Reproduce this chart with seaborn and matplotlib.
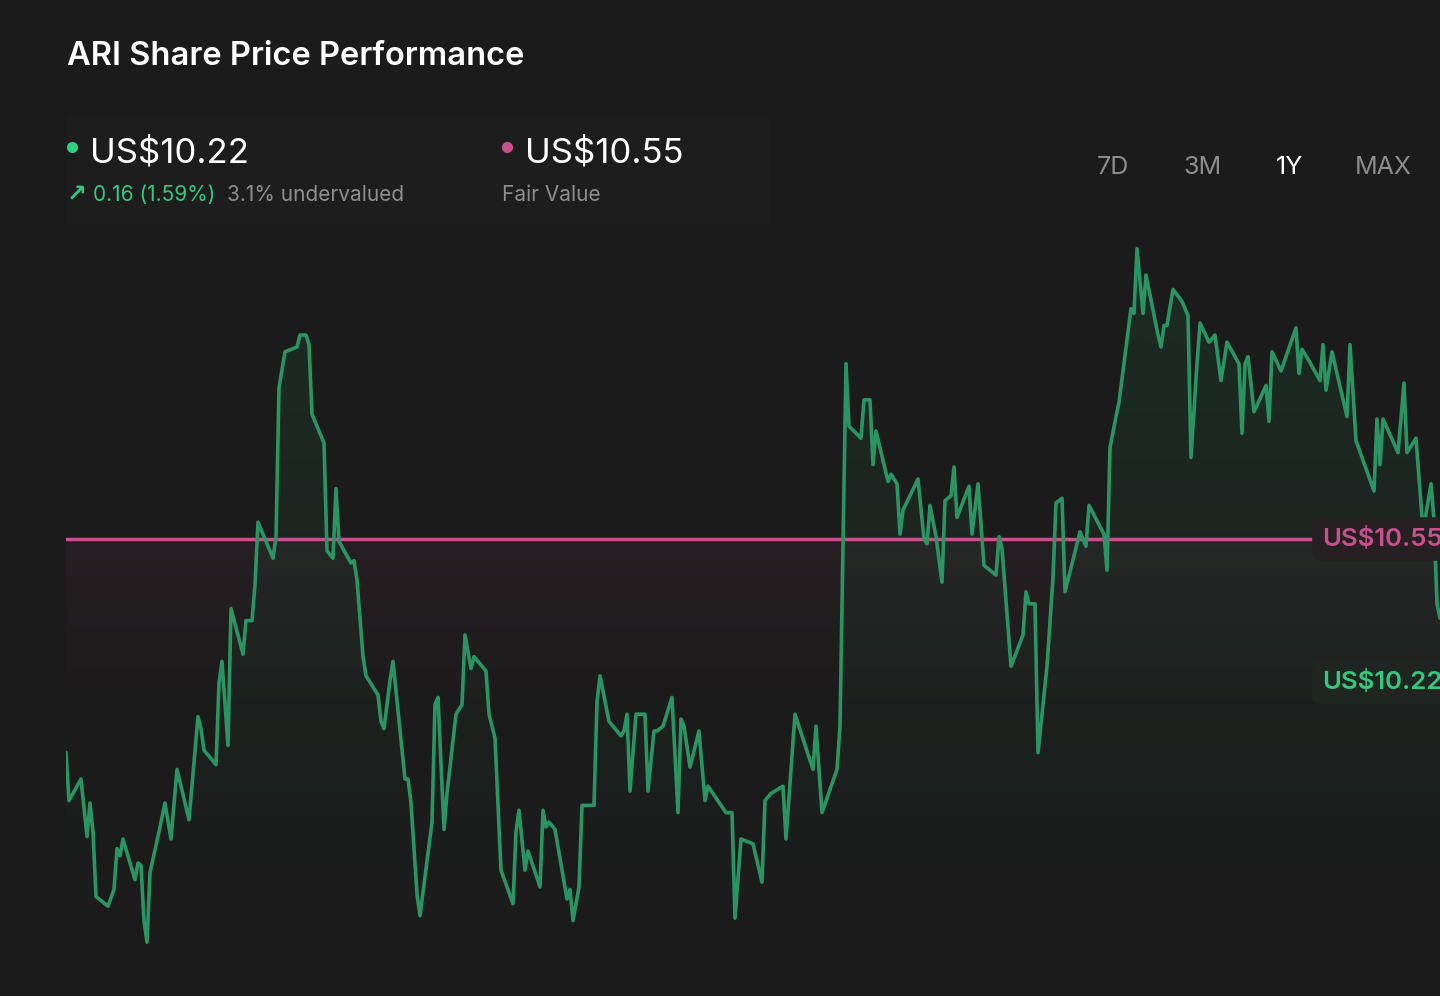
import numpy as np
import pandas as pd
import matplotlib
matplotlib.use("Agg")
import matplotlib.pyplot as plt
from matplotlib.lines import Line2D
from matplotlib.patches import Rectangle
import seaborn as sns

# ARI closing prices, one year (session index, price in US$)
days = [0, 1, 5, 7, 8, 9, 10, 14, 16, 17, 18, 19, 23, 24, 25, 26, 27, 28, 31, 33,
        35, 37, 41, 44, 45, 46, 50, 51, 52, 54, 55, 59, 60, 62, 63, 64, 69, 70, 71, 73,
        77, 78, 80, 81, 82, 86, 87, 89, 90, 91, 95, 96, 97, 99, 100, 104, 105, 106, 108, 109,
        113, 114, 115, 117, 118, 122, 123, 124, 126, 127, 130, 132, 133, 135, 136, 140, 141, 143, 145, 149,
        150, 151, 153, 154, 158, 159, 160, 161, 163, 167, 168, 169, 171, 172, 176, 177, 178, 181, 185, 186,
        187, 188, 190, 193, 194, 196, 197, 199, 202, 204, 205, 206, 208, 211, 213, 214, 220, 222, 223, 225,
        229, 232, 233, 235, 239, 240, 243, 249, 250, 252, 257, 258, 260, 261, 265, 266, 268, 269, 270, 274,
        275, 277, 278, 279, 284, 286, 287, 288, 290, 292, 293, 295, 296, 297, 301, 302, 304, 306, 310, 311,
        312, 314, 315, 319, 320, 321, 323, 324, 327, 329, 330, 332, 333, 338, 340, 341, 346, 347, 348, 350,
        351, 355, 356, 357, 359, 360, 364, 365, 366, 367, 369, 372, 374, 375, 377, 378, 381, 383, 385, 387,
        391, 392, 393, 394, 396, 400, 401, 402, 405, 410, 411, 412, 414, 418, 419, 420, 422, 427, 428, 430,
        432, 436, 437, 438, 439, 444, 446, 447, 450, 452, 453, 455, 456, 457, 458]
prices = [9.66, 9.46, 9.55, 9.31, 9.45, 9.33, 9.06, 9.02, 9.09, 9.26, 9.23, 9.30, 9.13, 9.20, 9.19, 8.96, 8.87, 9.16, 9.33, 9.45,
          9.30, 9.59, 9.38, 9.81, 9.76, 9.67, 9.61, 9.95, 10.04, 9.69, 10.26, 10.07, 10.21, 10.21, 10.36, 10.62, 10.47, 10.56, 11.18, 11.33,
          11.35, 11.40, 11.40, 11.36, 11.07, 10.95, 10.50, 10.47, 10.76, 10.54, 10.45, 10.46, 10.38, 10.06, 9.98, 9.90, 9.79, 9.76, 9.96, 10.04,
          9.55, 9.55, 9.45, 9.07, 8.98, 9.37, 9.86, 9.89, 9.34, 9.49, 9.82, 9.86, 10.15, 10.01, 10.06, 10.00, 9.82, 9.72, 9.17, 9.03,
          9.33, 9.42, 9.17, 9.25, 9.10, 9.42, 9.35, 9.37, 9.34, 9.05, 9.09, 8.96, 9.10, 9.44, 9.44, 9.87, 9.98, 9.79, 9.73, 9.75,
          9.82, 9.50, 9.82, 9.82, 9.50, 9.75, 9.75, 9.77, 9.89, 9.41, 9.80, 9.77, 9.60, 9.75, 9.46, 9.52, 9.41, 9.41, 8.97, 9.30,
          9.28, 9.12, 9.46, 9.49, 9.52, 9.30, 9.82, 9.59, 9.77, 9.41, 9.59, 9.77, 11.28, 11.02, 10.97, 11.13, 11.13, 10.86, 11.00, 10.79,
          10.82, 10.78, 10.57, 10.67, 10.80, 10.55, 10.53, 10.69, 10.56, 10.37, 10.71, 10.73, 10.85, 10.64, 10.77, 10.57, 10.78, 10.44, 10.40, 10.56,
          10.51, 10.18, 10.02, 10.15, 10.33, 10.28, 10.28, 9.66, 10.02, 10.39, 10.70, 10.72, 10.33, 10.58, 10.52, 10.69, 10.57, 10.42, 10.93, 11.06,
          11.12, 11.51, 11.49, 11.76, 11.49, 11.65, 11.40, 11.35, 11.44, 11.44, 11.59, 11.54, 11.48, 10.89, 11.28, 11.45, 11.37, 11.40, 11.21, 11.37,
          11.28, 10.99, 11.28, 11.31, 11.08, 11.19, 11.04, 11.33, 11.25, 11.43, 11.24, 11.34, 11.30, 11.21, 11.36, 11.17, 11.33, 11.06, 11.36, 10.96,
          10.89, 10.75, 11.05, 10.86, 11.05, 10.91, 11.20, 10.91, 10.97, 10.64, 10.63, 10.78, 10.63, 10.28, 10.22]

fair_value = 10.55
current_price = 10.22
change_text = "0.16 (1.59%)"
valuation_text = "3.1% undervalued"
periods = ["7D", "3M", "1Y", "MAX"]
active_period = "1Y"

BG = "#1b1b1b"
GREEN_LINE = "#2a9463"
GREEN_TEXT = "#35c97f"
PINK = "#c8508e"
GREY = "#8e8e8e"

sns.set_theme(style="dark", rc={"axes.facecolor": BG, "figure.facecolor": BG})
plt.rcParams["font.family"] = ["Inter", "DejaVu Sans"]

W, H = 1440, 996
fig = plt.figure(figsize=(W / 100, H / 100), dpi=100)


def fx(x):
    return x / W


def fy(y):
    return 1 - y / H


df = pd.DataFrame({"day": days, "price": prices})

ax = fig.add_axes([fx(66), 36 / H, (W - 66) / W, 730 / H])
ymin = fair_value - (960 - 539) / 240
ymax = fair_value + (539 - 230) / 240
ax.set_axis_off()

# pink glow under the fair value line
pink_rgba = np.zeros((256, 1, 4))
pink_rgba[:, 0, :3] = matplotlib.colors.to_rgb(PINK)
pink_rgba[:, 0, 3] = np.linspace(0.07, 0.0, 256)
ax.imshow(pink_rgba, extent=[df.day.min(), df.day.max(), fair_value - 0.75, fair_value],
          aspect="auto", origin="upper", zorder=1)

# green gradient under the price line
fill = ax.fill_between(df.day, df.price, ymin, color="none", lw=0)
green_rgba = np.zeros((256, 1, 4))
green_rgba[:, 0, :3] = matplotlib.colors.to_rgb("#2fae6f")
green_rgba[:, 0, 3] = np.linspace(0.12, 0.0, 256)
im = ax.imshow(green_rgba, extent=[df.day.min(), df.day.max(), ymin, ymax],
               aspect="auto", origin="upper", zorder=2)
im.set_clip_path(fill.get_paths()[0], transform=ax.transData)

ax.axhline(fair_value, xmin=0, xmax=(1312 - 66) / (W - 66), color=PINK, lw=2.5, zorder=3)
sns.lineplot(data=df, x="day", y="price", ax=ax, color=GREEN_LINE, lw=2.6, sort=False, zorder=4)
ax.set_xlim(df.day.min(), df.day.max())
ax.set_ylim(ymin, ymax)

label_x = (1322 - 66) / (W - 66)
ax.annotate(f"US${fair_value:.2f}", xy=(label_x, fair_value), xycoords=("axes fraction", "data"),
            va="center", ha="left", fontsize=18.5, fontweight="semibold", color=PINK, zorder=6,
            annotation_clip=False,
            bbox=dict(boxstyle="round,pad=0.38,rounding_size=0.35", fc="#262023", ec="none"))
ax.annotate(f"US${current_price:.2f}", xy=(label_x, current_price), xycoords=("axes fraction", "data"),
            xytext=(0, -46), textcoords="offset points",
            va="center", ha="left", fontsize=18.5, fontweight="semibold", color=GREEN_TEXT, zorder=6,
            annotation_clip=False,
            bbox=dict(boxstyle="round,pad=0.38,rounding_size=0.35", fc="#1f2521", ec="none"))

# header
fig.patches.append(Rectangle((fx(66), fy(225)), fx(770) - fx(66), fy(115) - fy(225),
                             transform=fig.transFigure, fc="#1d1d1d", ec="none", zorder=0))
fig.text(fx(67), fy(65), "ARI Share Price Performance", fontsize=23.5, fontweight="semibold",
         color="white", va="baseline")

fig.add_artist(Line2D([fx(72)], [fy(147)], marker="o", ms=8, color="#2fcf83", mec="none",
                      transform=fig.transFigure))
fig.add_artist(Line2D([fx(507)], [fy(147)], marker="o", ms=8, color=PINK, mec="none",
                      transform=fig.transFigure))
fig.text(fx(90), fy(162), f"US${current_price:.2f}", fontsize=25, color="white", va="baseline")
fig.text(fx(525), fy(162), f"US${fair_value:.2f}", fontsize=25, color="white", va="baseline")
fig.text(fx(67), fy(201), "\u2197", fontsize=17, fontweight="bold", color=GREEN_TEXT,
         va="baseline", family=["DejaVu Sans"])
fig.text(fx(93), fy(201), change_text, fontsize=15, color=GREEN_TEXT, va="baseline")
fig.text(fx(227), fy(201), valuation_text, fontsize=15, color=GREY, va="baseline")
fig.text(fx(502), fy(201), "Fair Value", fontsize=15, color=GREY, va="baseline")

for px, name in zip([1097, 1183, 1276, 1355], periods):
    fig.text(fx(px), fy(174), name, fontsize=18, va="baseline",
             color="white" if name == active_period else GREY)

fig.savefig("out.png", dpi=100, facecolor=BG)
